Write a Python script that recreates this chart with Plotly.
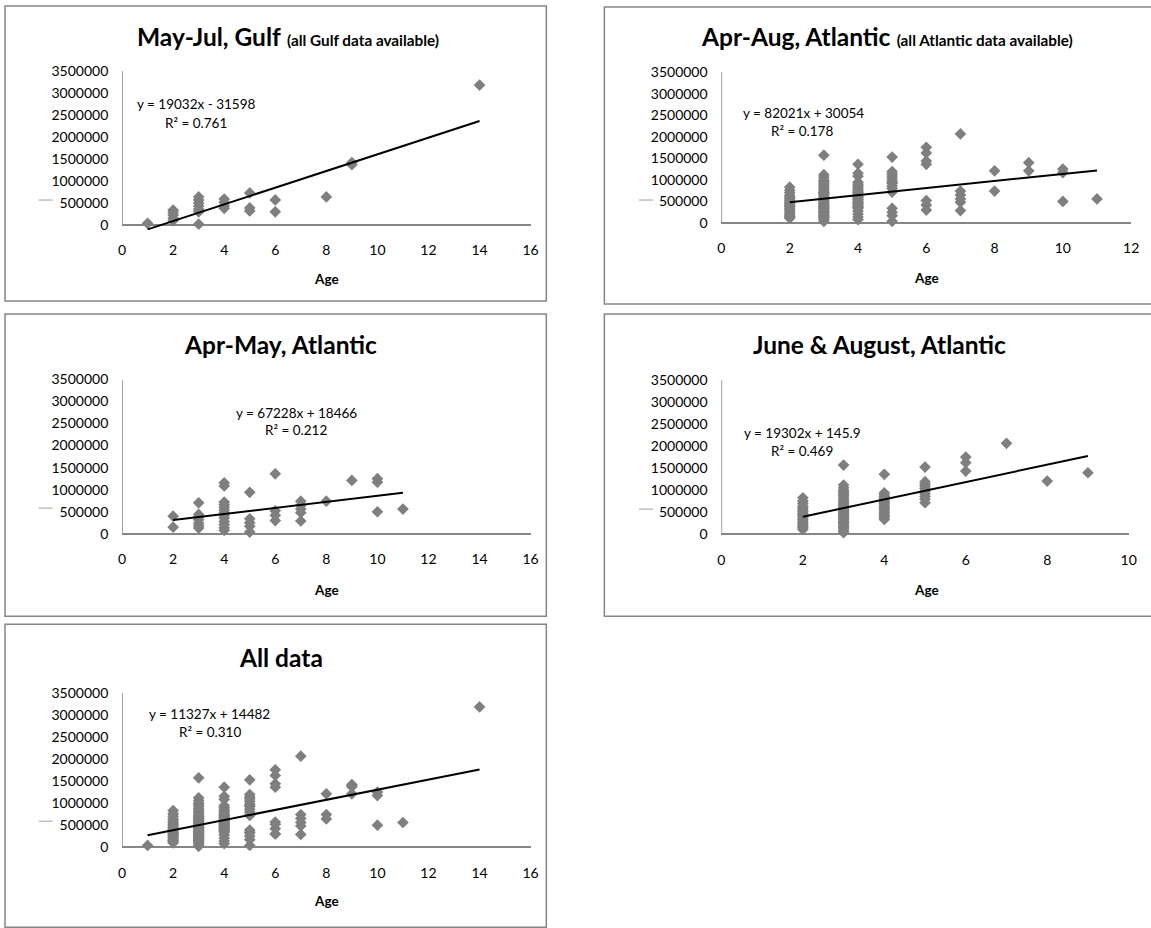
import plotly.graph_objects as go

# ---------------- data ----------------
gulf_age = [1, 2, 2, 2, 2, 2, 3, 3, 3, 3, 3, 3, 3, 4, 4, 4, 4, 5, 5, 5, 6, 6, 8, 9, 9, 14]
gulf_val = [40000, 340000, 290000, 230000, 160000, 100000,
            640000, 570000, 500000, 430000, 360000, 300000, 20000,
            590000, 520000, 440000, 380000,
            730000, 390000, 320000,
            570000, 300000, 640000, 1420000, 1370000, 3180000]

aprmay_age = [2, 2,
              3, 3, 3, 3, 3, 3, 3,
              4, 4, 4, 4, 4, 4, 4, 4, 4, 4, 4, 4, 4,
              5, 5, 5, 5, 5,
              6, 6, 6, 6,
              7, 7, 7, 7, 7,
              8, 9, 10, 10, 10, 11]
aprmay_val = [400000, 150000,
              702000, 440000, 380000, 320000, 240000, 180000, 130000,
              1155000, 1085000, 720000, 660000, 600000, 540000, 480000, 420000, 360000, 280000, 210000, 140000, 80000,
              940000, 340000, 250000, 170000, 40000,
              1360000, 520000, 420000, 300000,
              740000, 650000, 560000, 480000, 290000,
              740000, 1210000, 1250000, 1170000, 500000, 560000]

junaug_age = [2] * 18 + [3] * 33 + [4] * 17 + [5] * 10 + [6, 6, 6, 7, 8, 9]
junaug_val = [832000, 760000, 700000, 640000, 600000, 560000, 520000, 480000, 450000,
              420000, 380000, 340000, 300000, 260000, 220000, 180000, 150000, 113000,
              1573000, 1120000, 1060000, 1000000, 960000, 920000, 880000, 840000, 800000,
              760000, 720000, 690000, 660000, 630000, 600000, 570000, 540000, 510000,
              480000, 450000, 420000, 390000, 360000, 330000, 300000, 270000, 240000,
              210000, 180000, 150000, 120000, 80000, 38000,
              1362000, 945000, 900000, 860000, 820000, 780000, 740000, 700000, 660000,
              620000, 580000, 540000, 500000, 460000, 420000, 380000, 340000,
              1528000, 1195000, 1140000, 1090000, 1040000, 980000, 920000, 860000, 800000, 718000,
              1755000, 1626000, 1437000, 2065000, 1210000, 1399000]

apraug_age = aprmay_age + junaug_age
apraug_val = aprmay_val + junaug_val
all_age = gulf_age + apraug_age
all_val = gulf_val + apraug_val

# trendline end points (as drawn in the original)
gulf_trend_x, gulf_trend_y = [1, 14], [-98000, 2364000]
apraug_trend_x, apraug_trend_y = [2, 11], [480000, 1220000]
aprmay_trend_x, aprmay_trend_y = [2, 11], [315000, 929000]
junaug_trend_x, junaug_trend_y = [2, 9], [401000, 1778000]
all_trend_x, all_trend_y = [1, 14], [272000, 1762000]

y_ticks = [0, 500000, 1000000, 1500000, 2000000, 2500000, 3000000, 3500000]
y_ticktext = ["0", "500000", "1000000", "1500000", "2000000", "2500000", "3000000", "3500000"]

panels = [
    dict(title="May-Jul, Gulf", sub="(all Gulf data available)",
         x=gulf_age, y=gulf_val, tx=gulf_trend_x, ty=gulf_trend_y, xmax=16,
         eq="y = 19032x - 31598", r2="R² = 0.761"),
    dict(title="Apr-Aug, Atlantic", sub="(all Atlantic data available)",
         x=apraug_age, y=apraug_val, tx=apraug_trend_x, ty=apraug_trend_y, xmax=12,
         eq="y = 82021x + 30054", r2="R² = 0.178"),
    dict(title="Apr-May, Atlantic", sub=None,
         x=aprmay_age, y=aprmay_val, tx=aprmay_trend_x, ty=aprmay_trend_y, xmax=16,
         eq="y = 67228x + 18466", r2="R² = 0.212"),
    dict(title="June & August, Atlantic", sub=None,
         x=junaug_age, y=junaug_val, tx=junaug_trend_x, ty=junaug_trend_y, xmax=10,
         eq="y = 19302x + 145.9", r2="R² = 0.469"),
    dict(title="All data", sub=None,
         x=all_age, y=all_val, tx=all_trend_x, ty=all_trend_y, xmax=16,
         eq="y = 11327x + 14482", r2="R² = 0.310"),
]

# ---------------- layout geometry (target pixels) ----------------
W, H = 1151, 928
# the photographed page comes out slightly scaled/offset; compensate
S, AX, AY = 0.989, 4.0, 8.0

geo = [
    dict(xl=122, xr=530.3, y0=224, yt=70, box=(5, 5, 546, 300), tc=(287.5, 35), eq=(196, 103), r2=(196, 122), ac=(326, 278), dash=(38.6, 199)),
    dict(xl=721, xr=1130.5, y0=222, yt=71, box=(604, 6, 1165, 303), tc=(886.5, 35), eq=(803.5, 112), r2=(802, 130), ac=(926, 277), dash=(638.6, 199)),
    dict(xl=122, xr=530.3, y0=532.7, yt=378.3, box=(5, 313, 546, 615), tc=(280.2, 343), eq=(296.4, 411.7), r2=(295.6, 429), ac=(326, 589), dash=(38.6, 507)),
    dict(xl=721, xr=1128, y0=533.3, yt=379, box=(604, 313, 1165, 615), tc=(878.6, 343), eq=(802, 431.7), r2=(802, 450), ac=(926, 589), dash=(638.6, 508)),
    dict(xl=122, xr=530.3, y0=846, yt=691.7, box=(5, 623, 546, 926), tc=(281, 656), eq=(209.6, 712.7), r2=(209.6, 730.7), ac=(326, 900), dash=(38.6, 820)),
]

FONT = "Lato"
GREY = "#868686"
YMIN = -150000

fig = go.Figure()
layout = dict(width=W, height=H, margin=dict(l=0, r=0, t=0, b=0),
              paper_bgcolor="white", plot_bgcolor="rgba(0,0,0,0)",
              showlegend=False, font=dict(family=FONT, color="black", size=14))
shapes, annotations = [], []


def px(xp):
    return ((xp - AX) / S) / W


def py(yp):
    return 1 - ((yp - AY) / S) / H


def note(text, xy, size, bold=False):
    return dict(text=("<b>" + text + "</b>") if bold else text, xref="paper", yref="paper",
                x=px(xy[0]), y=py(xy[1]), xanchor="center", yanchor="middle",
                showarrow=False, font=dict(family=FONT, size=size, color="black"))


for i, (p, g) in enumerate(zip(panels, geo)):
    n = "" if i == 0 else str(i + 1)
    xa, ya = "x" + n, "y" + n
    ppu = (g["y0"] - g["yt"]) / 3500000.0
    ybot = g["y0"] - YMIN * ppu
    layout["xaxis" + n] = dict(domain=[px(g["xl"]), px(g["xr"])], anchor=ya,
                               range=[0, p["xmax"]], tick0=0, dtick=2,
                               showgrid=False, zeroline=False, showline=False,
                               ticks="outside", ticklen=6, tickcolor="rgba(0,0,0,0)",
                               tickfont=dict(family=FONT, size=14, color="black"))
    layout["yaxis" + n] = dict(domain=[py(ybot), py(g["yt"])], anchor=xa,
                               range=[YMIN, 3500000], tickvals=y_ticks, ticktext=y_ticktext,
                               showgrid=False, zeroline=True, zerolinecolor=GREY, zerolinewidth=1.5,
                               showline=False,
                               ticks="outside", ticklen=10, tickcolor="rgba(0,0,0,0)",
                               tickfont=dict(family=FONT, size=14, color="black"))
    fig.add_trace(go.Scatter(x=p["x"], y=p["y"], mode="markers", xaxis=xa, yaxis=ya,
                             marker=dict(symbol="diamond", size=9, color="#7f7f7f"),
                             cliponaxis=False, hoverinfo="x+y"))
    fig.add_trace(go.Scatter(x=p["tx"], y=p["ty"], mode="lines", xaxis=xa, yaxis=ya,
                             line=dict(color="black", width=2), hoverinfo="skip"))
    shapes.append(dict(type="line", xref=xa, yref=ya, x0=0, x1=0, y0=0, y1=3500000,
                       line=dict(color=GREY, width=1.5), layer="below"))
    l, t, r, b = g["box"]
    shapes.append(dict(type="rect", xref="paper", yref="paper",
                       x0=px(l), x1=px(r), y0=py(b), y1=py(t),
                       line=dict(color=GREY, width=1.5), layer="below"))
    dx, dy = g["dash"]
    shapes.append(dict(type="line", xref="paper", yref="paper",
                       x0=px(dx), x1=px(dx + 14), y0=py(dy), y1=py(dy),
                       line=dict(color="#a0a0a0", width=1)))
    ttxt = "<b>" + p["title"] + "</b>"
    if p["sub"]:
        ttxt += " <b><span style='font-size:15.3px'>" + p["sub"] + "</span></b>"
    annotations.append(note(ttxt, g["tc"], 24.5))
    annotations.append(note(p["eq"], g["eq"], 13.5))
    annotations.append(note(p["r2"], g["r2"], 13.5))
    annotations.append(note("Age", g["ac"], 13.5, bold=True))

layout["shapes"] = shapes
layout["annotations"] = annotations
fig.update_layout(**layout)
fig.write_html("out.html",
               config={"displayModeBar": False},
               post_script="document.documentElement.style.margin='0';"
                           "document.body.style.margin='0';document.body.style.padding='0';"
                           "document.body.style.overflow='hidden';"
                           "var gd=document.getElementById('{plot_id}');"
                           "gd.style.position='fixed';gd.style.left='0px';gd.style.top='0px';")
